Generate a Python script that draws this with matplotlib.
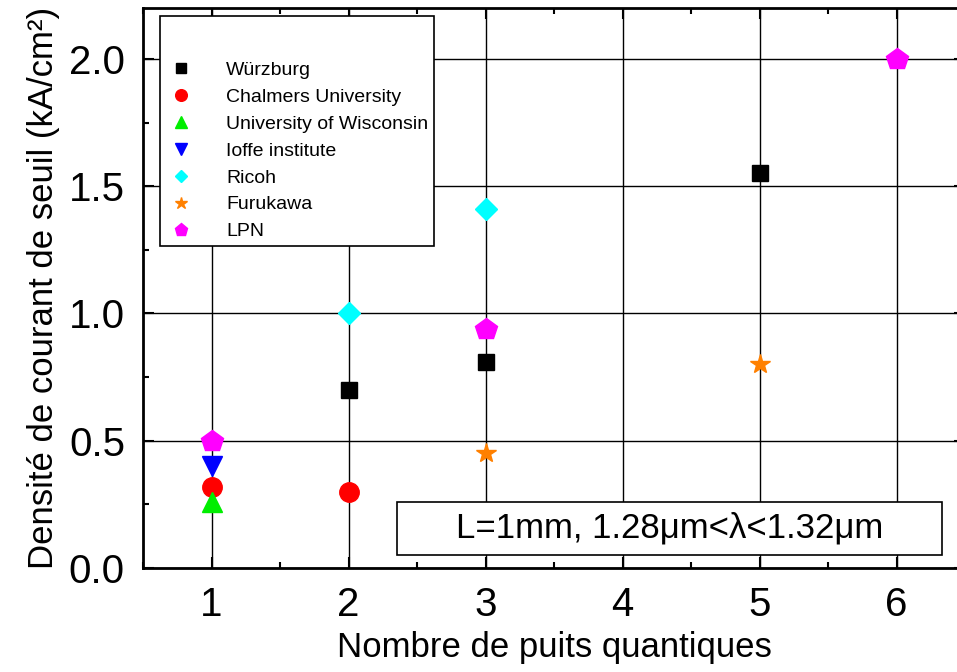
import matplotlib.pyplot as plt
from matplotlib.patches import Rectangle
from matplotlib.ticker import MultipleLocator

plt.rcParams["font.family"] = ["Liberation Sans", "DejaVu Sans"]

# data
wurzburg_x = [2, 3, 5]
wurzburg_y = [0.70, 0.81, 1.55]
chalmers_x = [1, 2]
chalmers_y = [0.32, 0.30]
wisconsin_x = [1]
wisconsin_y = [0.26]
ioffe_x = [1]
ioffe_y = [0.40]
ricoh_x = [2, 3]
ricoh_y = [1.00, 1.41]
furukawa_x = [3, 5]
furukawa_y = [0.45, 0.80]
lpn_x = [1, 3, 6]
lpn_y = [0.50, 0.94, 2.00]

fig = plt.figure(figsize=(9.57, 6.72), dpi=100)
ax = fig.add_axes([143 / 957, 1 - 568 / 672, 822 / 957, 560 / 672])

ax.set_axisbelow(True)
ax.grid(True, which="major", color="black", linewidth=1.0)

ax.plot(wurzburg_x, wurzburg_y, "s", color="black", ms=12, label="Würzburg", zorder=3)
ax.plot(chalmers_x, chalmers_y, "o", color="red", ms=14, label="Chalmers University", zorder=3)
ax.plot(wisconsin_x, wisconsin_y, "^", color="#00ee00", ms=14, label="University of Wisconsin", zorder=3)
ax.plot(ioffe_x, ioffe_y, "v", color="blue", ms=14, label="Ioffe institute", zorder=3)
ax.plot(ricoh_x, ricoh_y, "D", color="cyan", ms=11, label="Ricoh", zorder=3)
ax.plot(furukawa_x, furukawa_y, "*", color="#ff8000", ms=15, label="Furukawa", zorder=3)
ax.plot(lpn_x, lpn_y, "p", color="magenta", ms=16, label="LPN", zorder=3)

ax.set_xlim(0.5, 6.5)
ax.set_ylim(0, 2.2)
ax.xaxis.set_major_locator(MultipleLocator(1))
ax.xaxis.set_minor_locator(MultipleLocator(0.5))
ax.yaxis.set_major_locator(MultipleLocator(0.5))
ax.yaxis.set_minor_locator(MultipleLocator(0.25))
ax.tick_params(which="both", direction="in", top=True, right=True, width=1.5)
ax.tick_params(which="major", length=8, labelsize=29, pad=13)
ax.tick_params(which="minor", length=4)
for s in ax.spines.values():
    s.set_linewidth(2)

ax.set_xlabel("Nombre de puits quantiques", fontsize=25, labelpad=5)
ax.set_ylabel("Densité de courant de seuil (kA/cm²)", fontsize=25, labelpad=6)

leg = ax.legend(loc="upper left", bbox_to_anchor=(17 / 822, 1 - 8 / 560), borderaxespad=0,
                fontsize=14, markerscale=0.6, frameon=True, fancybox=False,
                framealpha=1, edgecolor="black", borderpad=0.3, labelspacing=0.48,
                handletextpad=1.5, handlelength=1.6, title=" ", title_fontsize=22)
leg.get_frame().set_linewidth(1.2)

# annotation box
box_x, box_y, box_w, box_h = (397 - 143) / 822, 13 / 560, 545 / 822, 53 / 560
ax.add_patch(Rectangle((box_x, box_y), box_w, box_h, transform=ax.transAxes,
                       facecolor="white", edgecolor="black", linewidth=1.2, zorder=4))
ax.text(box_x + box_w / 2, box_y + box_h / 2, "L=1mm, 1.28\u03bcm<\u03bb<1.32\u03bcm",
        transform=ax.transAxes, fontsize=25, ha="center", va="center", zorder=5)

fig.savefig("out.png", dpi=100)
